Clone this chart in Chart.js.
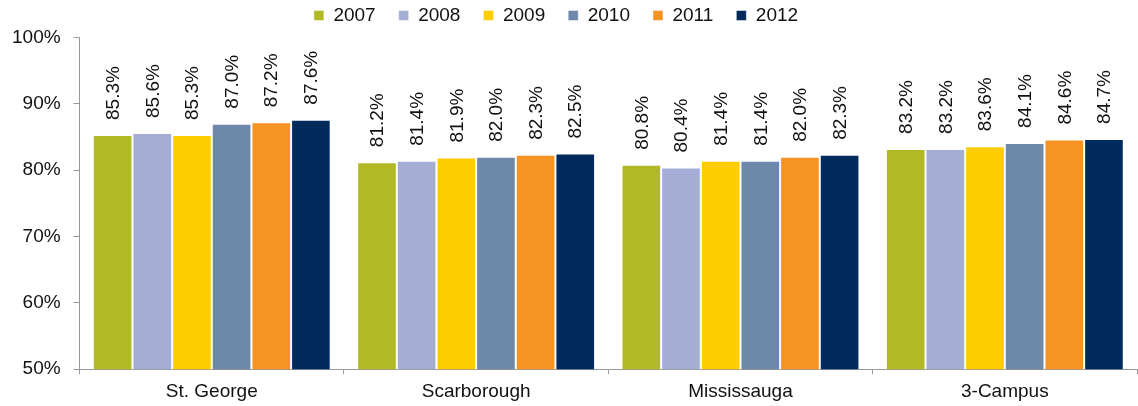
<!DOCTYPE html>
<html>
<head>
<meta charset="utf-8">
<script src="https://cdn.jsdelivr.net/npm/chart.js@4"></script>
<style>
    html, body { margin: 0; padding: 0; background: #ffffff; }
    #wrap { width: 1138px; height: 406px; }
</style>
</head>
<body>
<div id="wrap"><canvas id="rateChart"></canvas></div>
<script>
// Categories and series
const campuses = ["St. George", "Scarborough", "Mississauga", "3-Campus"];
const years = ["2007", "2008", "2009", "2010", "2011", "2012"];

const values2007 = [85.3, 81.2, 80.8, 83.2];
const values2008 = [85.6, 81.4, 80.4, 83.2];
const values2009 = [85.3, 81.9, 81.4, 83.6];
const values2010 = [87.0, 82.0, 81.4, 84.1];
const values2011 = [87.2, 82.3, 82.0, 84.6];
const values2012 = [87.6, 82.5, 82.3, 84.7];

const yTicks = [50, 60, 70, 80, 90, 100];

const colors = ["#B1BA24", "#A4AED5", "#FFCC00", "#6D88A8", "#F69322", "#002B5C"];
const seriesValues = [values2007, values2008, values2009, values2010, values2011, values2012];

Chart.defaults.font.family = "'Liberation Sans', Arial, sans-serif";
Chart.defaults.font.size = 19;
Chart.defaults.color = "#111111";

// Draws the rotated value labels above each bar
const barLabels = {
    id: "barLabels",
    afterDatasetsDraw(chart) {
        const ctx = chart.ctx;
        ctx.save();
        ctx.font = "19px 'Liberation Sans', Arial, sans-serif";
        ctx.fillStyle = "#111111";
        ctx.textAlign = "left";
        ctx.textBaseline = "middle";
        chart.data.datasets.forEach((ds, i) => {
            const meta = chart.getDatasetMeta(i);
            meta.data.forEach((bar, j) => {
                ctx.save();
                ctx.translate(bar.x, bar.y - 15);
                ctx.rotate(-Math.PI / 2);
                ctx.fillText(ds.data[j].toFixed(1) + "%", 0, 1);
                ctx.restore();
            });
        });
        ctx.restore();
    }
};

// Legend in the original sits a little left of the centre
const legendShift = {
    id: "legendShift",
    afterLayout(chart) {
        chart.legend.left -= 12;
        chart.legend.right -= 12;
    }
};

const chart = new Chart(document.getElementById("rateChart"), {
    type: "bar",
    data: {
        labels: campuses,
        datasets: years.map((yr, i) => ({
            label: yr,
            data: seriesValues[i],
            backgroundColor: colors[i],
            borderColor: "rgba(255,255,255,0.45)",
            borderWidth: 1,
            categoryPercentage: 0.9,
            barPercentage: 1.0,
        })),
    },
    options: {
        responsive: true,
        maintainAspectRatio: false,
        animation: false,
        layout: {
            padding: { top: -17, right: 1, left: -1, bottom: -3 },
        },
        plugins: {
            legend: {
                position: "top",
                labels: {
                    boxWidth: 10,
                    boxHeight: 10,
                    padding: 23,
                    color: "#111111",
                    font: { size: 19 },
                },
            },
            // small empty spacer between legend and plot
            title: {
                display: true,
                text: " ",
                weight: 500,
                padding: 0,
                font: { size: 2 },
            },
            tooltip: { enabled: false },
        },
        scales: {
            x: {
                grid: {
                    offset: true,
                    drawOnChartArea: false,
                    tickLength: 5,
                    color: "#999999",
                },
                border: { color: "#999999", width: 1 },
                ticks: { padding: 6, color: "#111111" },
            },
            y: {
                min: 50,
                max: 100,
                afterBuildTicks(scale) {
                    scale.ticks = yTicks.map((v) => ({ value: v }));
                },
                grid: {
                    drawOnChartArea: false,
                    tickLength: 6,
                    color: "#999999",
                },
                border: { color: "#999999", width: 1 },
                ticks: {
                    padding: 13,
                    color: "#111111",
                    callback: (v) => v + "%",
                },
            },
        },
    },
    plugins: [barLabels, legendShift],
});
</script>
</body>
</html>
